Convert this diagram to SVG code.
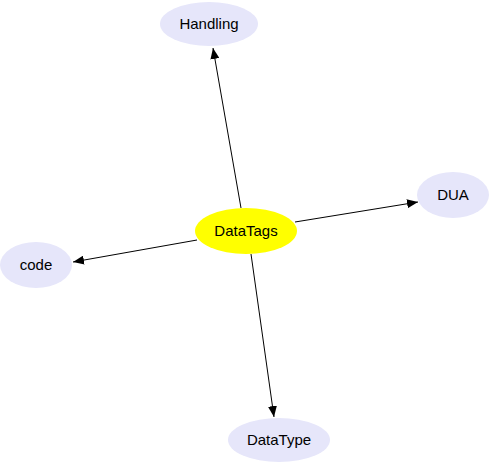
<svg xmlns="http://www.w3.org/2000/svg" width="490" height="465" viewBox="0 0 490 465">
<style>
.n{fill:#e6e6fa;stroke:none}
.t{font-family:"Liberation Sans",Arial,sans-serif;font-size:15px;fill:#000;text-anchor:middle}
.e{stroke:#000;stroke-width:1;fill:none;marker-end:url(#ah)}
</style>
<defs>
<marker id="ah" markerWidth="11" markerHeight="9" refX="11" refY="4.5" orient="auto" markerUnits="userSpaceOnUse">
<path d="M0,0 L11,4.5 L0,9 Z" fill="#000"/>
</marker>
</defs>
<rect width="490" height="465" fill="#fff"/>
<g id="edges">
<line class="e" x1="241" y1="208" x2="213" y2="48"/>
<line class="e" x1="295" y1="222" x2="418" y2="202"/>
<line class="e" x1="197" y1="240" x2="73" y2="262"/>
<line class="e" x1="251" y1="254" x2="274" y2="417"/>
</g>
<g id="DataTags">
<ellipse cx="246" cy="231" rx="51" ry="23" fill="#ffff00"/>
<text class="t" x="246" y="236">DataTags</text>
</g>
<g id="Handling">
<ellipse class="n" cx="209" cy="24" rx="49" ry="22"/>
<text class="t" x="209" y="29">Handling</text>
</g>
<g id="DUA">
<ellipse class="n" cx="453" cy="195" rx="36" ry="23"/>
<text class="t" x="453" y="200">DUA</text>
</g>
<g id="code">
<ellipse class="n" cx="36" cy="265" rx="36" ry="23"/>
<text class="t" x="36" y="270">code</text>
</g>
<g id="DataType">
<ellipse class="n" cx="279" cy="440" rx="51" ry="22"/>
<text class="t" x="279" y="445">DataType</text>
</g>
</svg>
